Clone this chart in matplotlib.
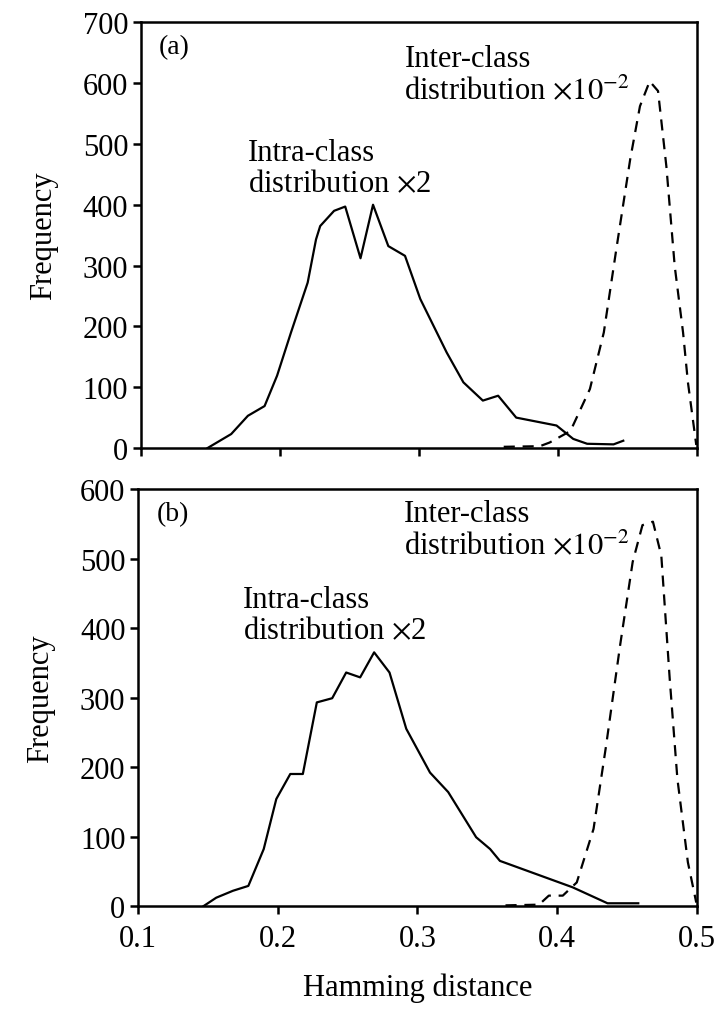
import matplotlib
matplotlib.use("Agg")
import matplotlib.pyplot as plt

plt.rcParams["font.family"] = ["Liberation Serif", "DejaVu Serif"]
plt.rcParams["mathtext.fontset"] = "stix"

# (a) intra-class distribution x2
intra_a_x = [0.148, 0.165, 0.177, 0.189, 0.198, 0.208, 0.220, 0.226, 0.229, 0.239,
             0.247, 0.258, 0.267, 0.278, 0.290, 0.301, 0.320, 0.332, 0.346, 0.357,
             0.370, 0.399, 0.411, 0.421, 0.440, 0.447]
intra_a_y = [0, 23, 53, 69, 119, 190, 272, 343, 365, 390,
             397, 312, 400, 332, 316, 245, 157, 108, 78, 86,
             50, 37, 15, 7, 6, 12]
# (a) inter-class distribution x10^-2
inter_a_x = [0.361, 0.387, 0.394, 0.409, 0.423, 0.433, 0.442, 0.452, 0.459, 0.466,
             0.472, 0.478, 0.484, 0.490, 0.4935, 0.4995]
inter_a_y = [2, 3, 9, 28, 97, 190, 327, 475, 562, 603,
             587, 463, 299, 190, 108, 5]

# (b) intra-class distribution x2
intra_b_x = [0.147, 0.156, 0.168, 0.179, 0.190, 0.199, 0.209, 0.218, 0.228, 0.239,
             0.249, 0.259, 0.269, 0.280, 0.292, 0.309, 0.322, 0.342, 0.352, 0.359,
             0.411, 0.436, 0.458]
intra_b_y = [0, 12, 22, 29, 82, 154, 190, 190, 293, 299,
             336, 329, 365, 336, 255, 192, 164, 99, 82, 65,
             27, 4, 4]
# (b) inter-class distribution x10^-2
inter_b_x = [0.363, 0.387, 0.394, 0.404, 0.414, 0.426, 0.435, 0.445, 0.454, 0.461,
             0.4685, 0.4745, 0.4805, 0.486, 0.4935, 0.4995]
inter_b_y = [1, 2, 15, 15, 34, 111, 231, 375, 495, 548,
             553, 504, 327, 183, 63, 5]

panels = [
    ("(a)", intra_a_x, intra_a_y, inter_a_x, inter_a_y, 700, range(0, 701, 100)),
    ("(b)", intra_b_x, intra_b_y, inter_b_x, inter_b_y, 600, range(0, 601, 100)),
]
boxes = [[0.194, 0.5563, 0.766, 0.4207], [0.190, 0.1037, 0.770, 0.4121]]
# annotation anchors (axes fraction): intra label, inter label
label_pos = {"(a)": ((0.192, 0.728), (0.474, 0.948)),
             "(b)": ((0.188, 0.77), (0.476, 0.975))}

fig = plt.figure(figsize=(7.26, 10.12), dpi=100)
fs = 22
for (tag, ix, iy, ex, ey, ymax, yt), box in zip(panels, boxes):
    ax = fig.add_axes(box)
    ax.plot(ix, iy, color="black", lw=1.6)
    ax.plot(ex, ey, color="black", lw=1.6, ls=(0, (5, 3.5)))
    ax.set_xlim(0.1, 0.5)
    ax.set_ylim(0, ymax)
    ax.set_xticks([0.1, 0.2, 0.3, 0.4, 0.5])
    ax.set_yticks(list(yt))
    for s in ax.spines.values():
        s.set_linewidth(1.8)
    ax.tick_params(direction="out", length=6, width=1.8, labelsize=fs)
    ax.tick_params(axis="y", pad=3)
    ax.tick_params(axis="x", pad=7)
    ax.set_ylabel("Frequency", fontsize=fs, labelpad=18)
    ax.text(0.033, 0.972, tag, transform=ax.transAxes, fontsize=20, va="top", ha="left")
    (ix0, iy0), (ex0, ey0) = label_pos[tag]
    ax.text(ix0, iy0, "Intra-class\ndistribution $\\times$2",
            transform=ax.transAxes, fontsize=fs, va="top", ha="left", linespacing=1.1)
    ax.text(ex0, ey0, "Inter-class\ndistribution $\\times10^{-2}$",
            transform=ax.transAxes, fontsize=fs, va="top", ha="left", linespacing=1.1)
    if tag == "(a)":
        ax.set_xticklabels([])
    else:
        ax.set_xticklabels(["0.1", "0.2", "0.3", "0.4", "0.5"])
        ax.set_xlabel("Hamming distance", fontsize=fs, labelpad=14)

fig.savefig("out.png", dpi=100)
